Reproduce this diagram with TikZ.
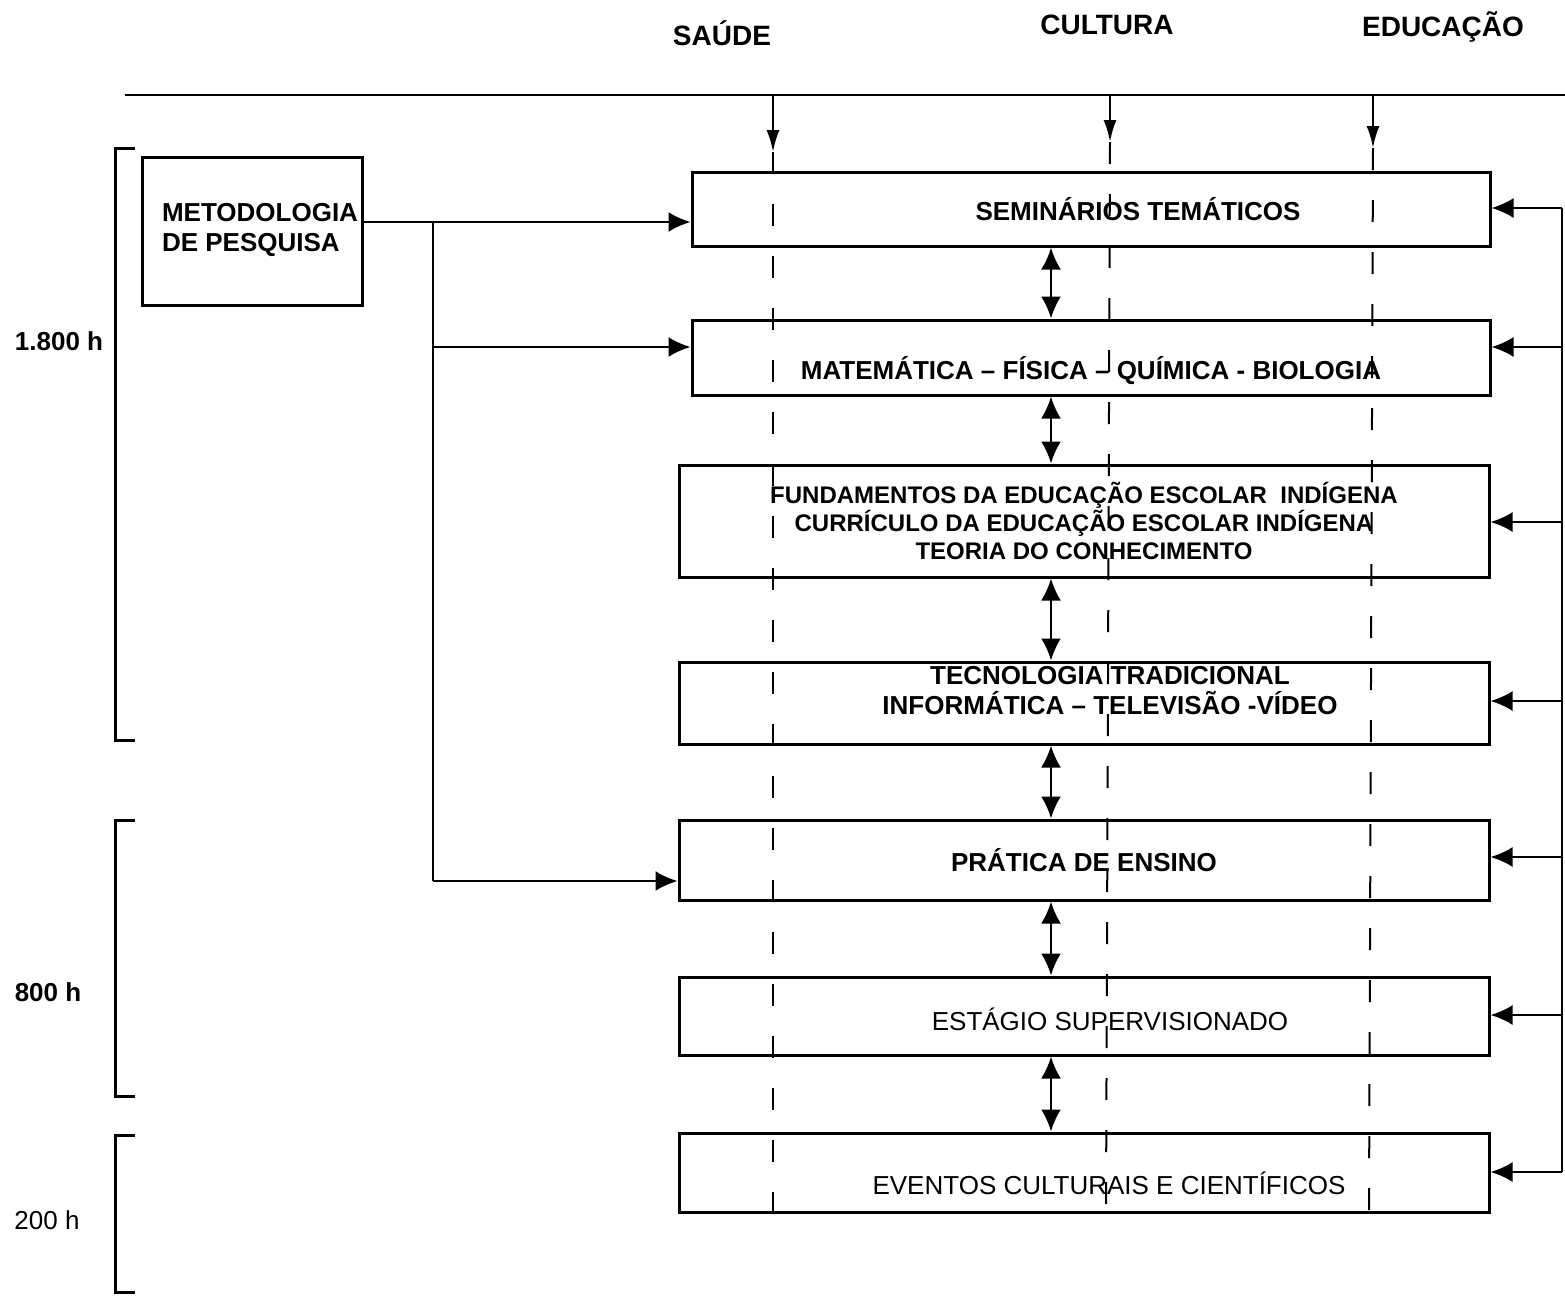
\documentclass[tikz,border=0pt]{standalone}
\usepackage{fontspec}
\setmainfont{Liberation Sans}
\usetikzlibrary{arrows.meta}
\begin{document}
\begin{tikzpicture}[x=0.5pt,y=-0.5pt,
  boxA/.style={draw,line width=1.5pt,minimum width=399pt,inner sep=0pt},
  boxB/.style={draw,line width=1.5pt,minimum width=405pt,inner sep=0pt},
  txtB/.style={font=\bfseries\fontsize{13}{15}\selectfont,align=center},
  txtR/.style={font=\fontsize{13}{15}\selectfont,align=center},
  hdr/.style={font=\bfseries\fontsize{14}{16}\selectfont},
  arr/.style={line width=1.2pt,-{Latex[length=11pt,width=10pt]}},
  darr/.style={line width=1.3pt,{Latex[length=11pt,width=10pt]}-{Latex[length=11pt,width=10pt]}},
  tarr/.style={line width=1.2pt,-{Latex[length=11pt,width=6.5pt]}},
  dsh/.style={line width=1pt,dash pattern=on 11pt off 15pt},
  brk/.style={line width=1.5pt}]
\useasboundingbox (0,0) rectangle (1565,1297);
% headers
\node[hdr] (hs) at (722,33) {SAÚDE};
\node[hdr] (hc) at (1107,25) {CULTURA};
\node[hdr] (he) at (1443,27) {EDUCAÇÃO};
% top line
\coordinate (tl) at (125,95);
\coordinate (tr) at (1565,95);
\draw[line width=1.2pt] (tl) -- (tr);
\coordinate (ts) at (773,95);
\coordinate (tc) at (1110,95);
\coordinate (te) at (1373,95);
\coordinate (as) at (773,152);
\coordinate (ac) at (1110,142);
\coordinate (ae) at (1373,148);
\draw[tarr] (ts) -- (as);
\draw[tarr] (tc) -- (ac);
\draw[tarr] (te) -- (ae);
\coordinate (ds) at (773,1212);
\coordinate (dc) at (1106,1212);
\coordinate (de) at (1369,1212);
\draw[dsh] (as) -- (ds);
\draw[dsh] (ac) -- (dc);
\draw[dsh] (ae) -- (de);
% boxes
\node[boxA,minimum height=37pt,label={[txtB,xshift=23.5pt]center:SEMINÁRIOS TEMÁTICOS}] (b1) at (1091,209) {};
\node[boxA,minimum height=37.5pt,label={[txtB,yshift=-6.5pt]center:MATEMÁTICA – FÍSICA – QUÍMICA - BIOLOGIA}] (b2) at (1091,357.5) {};
\node[boxB,minimum height=56pt,label={[txtB,font=\bfseries\fontsize{12}{14}\selectfont]center:FUNDAMENTOS DA EDUCAÇÃO ESCOLAR\ \ INDÍGENA\\CURRÍCULO DA EDUCAÇÃO ESCOLAR INDÍGENA\\TEORIA DO CONHECIMENTO}] (b3) at (1084,521) {};
\node[boxB,minimum height=41pt,label={[txtB,xshift=13pt,yshift=6pt]center:TECNOLOGIA TRADICIONAL\\INFORMÁTICA – TELEVISÃO -VÍDEO}] (b4) at (1084,703) {};
\node[boxB,minimum height=40pt,label={[txtB]center:PRÁTICA DE ENSINO}] (b5) at (1084,860) {};
\node[boxB,minimum height=39pt,label={[txtR,xshift=13pt,yshift=-1.5pt]center:ESTÁGIO SUPERVISIONADO}] (b6) at (1084,1016) {};
\node[boxB,minimum height=39.5pt,label={[txtR,xshift=12.5pt,yshift=-5.5pt]center:EVENTOS CULTURAIS E CIENTÍFICOS}] (b7) at (1084,1172.5) {};
% metodologia
\node[draw,line width=1.5pt,minimum width=110pt,minimum height=74pt,inner sep=0pt,
  label={[txtB,align=left,xshift=4pt,yshift=0.5pt]center:METODOLOGIA\\DE PESQUISA}] (mp) at (252,231) {};
% left connections
\coordinate (j1) at (433,222);
\coordinate (j2) at (433,347);
\coordinate (j3) at (433,881);
\coordinate (m1) at (362,222);
\draw[line width=1.2pt] (m1) -- (j1) -- (j3);
\draw[arr] (j1) -- (j1 -| b1.west);
\draw[arr] (j2) -- (j2 -| b2.west);
\draw[arr] (j3) -- (j3 -| b5.west);
% double arrows
\coordinate (xa) at (1051,0);
\draw[darr] (b1.south -| xa) -- (b2.north -| xa);
\draw[darr] (b2.south -| xa) -- (b3.north -| xa);
\draw[darr] (b3.south -| xa) -- (b4.north -| xa);
\draw[darr] (b4.south -| xa) -- (b5.north -| xa);
\draw[darr] (b5.south -| xa) -- (b6.north -| xa);
\draw[darr] (b6.south -| xa) -- (b7.north -| xa);
% right feedback
\coordinate (r1) at (1562,208);
\coordinate (r2) at (1562,347);
\coordinate (r3) at (1562,522);
\coordinate (r4) at (1562,701);
\coordinate (r5) at (1562,857);
\coordinate (r6) at (1562,1015);
\coordinate (r7) at (1562,1172);
\draw[line width=1.2pt] (r1) -- (r7);
\draw[arr] (r1) -- (r1 -| b1.east);
\draw[arr] (r2) -- (r2 -| b2.east);
\draw[arr] (r3) -- (r3 -| b3.east);
\draw[arr] (r4) -- (r4 -| b4.east);
\draw[arr] (r5) -- (r5 -| b5.east);
\draw[arr] (r6) -- (r6 -| b6.east);
\draw[arr] (r7) -- (r7 -| b7.east);
% brackets
\draw[brk] (135,148) -- (115,148) -- (115,740) -- (135,740);
\draw[brk] (135,820) -- (115,820) -- (115,1096) -- (135,1096);
\draw[brk] (135,1135) -- (115,1135) -- (115,1292) -- (135,1292);
\node[font=\bfseries\fontsize{13}{15}\selectfont] (h1) at (59,341) {1.800 h};
\node[font=\bfseries\fontsize{13}{15}\selectfont] (h2) at (48,992) {800 h};
\node[font=\fontsize{13}{15}\selectfont] (h3) at (47,1220) {200 h};
\end{tikzpicture}
\end{document}
